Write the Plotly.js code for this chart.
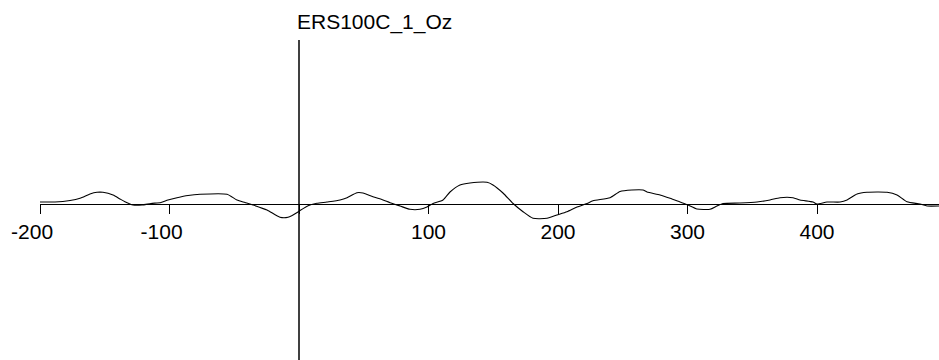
<!DOCTYPE html>
<html>
<head>
<meta charset="utf-8">
<script src="https://cdn.plot.ly/plotly-3.0.1.min.js"></script>
<style>html,body{margin:0;padding:0;background:#fff;}#chart{width:939px;height:360px;}</style>
</head>
<body>
<div id="chart"></div>
<script>
var chartTitle = "ERS100C_1_Oz";
var timeMs = [-200.0,-188.4,-176.8,-169.1,-161.4,-156.0,-151.4,-143.6,-138.2,-134.4,-128.2,-121.2,-114.3,-106.6,-101.2,-94.2,-85.7,-76.4,-55.6,-47.9,-41.7,-35.5,-24.7,-14.7,-8.5,-0.8,0.8,8.5,13.9,21.6,31.7,37.1,44.8,49.4,57.1,64.9,70.3,78.0,85.7,93.4,98.8,103.5,111.2,116.6,124.3,132.0,145.2,149.8,157.5,165.3,173.0,180.7,191.5,199.2,206.9,214.7,222.4,227.0,240.2,247.9,257.1,265.6,268.7,278.8,286.5,294.2,300.4,307.3,317.4,322.8,327.4,340.5,353.7,363.7,371.4,381.5,386.9,396.9,400.0,407.7,417.8,423.2,430.9,438.6,454.1,461.8,469.5,479.5,485.0,494.2];
var amplitude = [0.3,0.3,0.6,1.04,1.9,2.24,2.24,1.7,0.9,0.36,-0.3,-0.3,0,0.2,0.7,1.16,1.6,1.84,1.84,0.7,0.2,-0.3,-1.3,-2.76,-2.76,-1.7,-1.4,-0.3,0.04,0.3,0.7,1.16,2.16,2.1,1.36,0.7,0.16,-0.5,-1.16,-1.16,-0.7,0,0.7,2.3,3.7,4.1,4.24,3.7,2.1,0,-1.64,-2.96,-2.96,-2.3,-1.64,-0.7,0,0.56,1.16,2.4,2.7,2.7,2.3,1.7,1.04,0.3,-0.3,-1.1,-1.16,-0.5,0,0.1,0.3,0.7,1.16,1.16,0.7,0.3,-0.1,0.3,0.3,0.7,1.9,2.24,2.24,1.7,0.36,-0.1,-0.5,-0.5];
var tickValues = [-200,-100,0,100,200,300,400];
var tickLabels = ["-200\u2007\u2009","-100\u2007\u2009","","100","200","300","400"];
var xRange = [-200, 494.2];
var yRange = [-31.3, 40.7];
var markerTop = 32.7;

var fontFam = "Liberation Sans, Arial, sans-serif";
var trace = {
  x: timeMs, y: amplitude, type: "scatter", mode: "lines",
  line: {color: "#000", width: 1.1, shape: "spline", smoothing: 0.6},
  hoverinfo: "skip", showlegend: false
};
var layout = {
  width: 939, height: 360,
  margin: {l: 40, r: 0, t: 0, b: 0, pad: 0},
  paper_bgcolor: "#fff", plot_bgcolor: "#fff",
  title: {text: chartTitle, xref: "container", yref: "container", x: 297/939, xanchor: "left", y: 1 - 14/360, yanchor: "top",
          font: {family: fontFam, size: 21, color: "#000"}, pad: {t: 0, b: 0, l: 0, r: 0}},
  xaxis: {range: xRange, anchor: "free", position: (360 - 203.5)/360, showline: true, linecolor: "#000", linewidth: 1,
          tickmode: "array", tickvals: tickValues, ticktext: tickLabels, ticks: "outside", ticklen: 9, tickwidth: 1, tickcolor: "#000",
          showgrid: false, zeroline: false, tickfont: {family: fontFam, size: 21, color: "#000"}, fixedrange: true},
  yaxis: {range: yRange, visible: false, showgrid: false, zeroline: false, fixedrange: true},
  shapes: [{type: "line", xref: "x", yref: "y", x0: 0, x1: 0, y0: markerTop, y1: yRange[0], line: {color: "#000", width: 1.5}}]
};
Plotly.newPlot("chart", [trace], layout, {staticPlot: true, displayModeBar: false});
</script>
</body>
</html>
